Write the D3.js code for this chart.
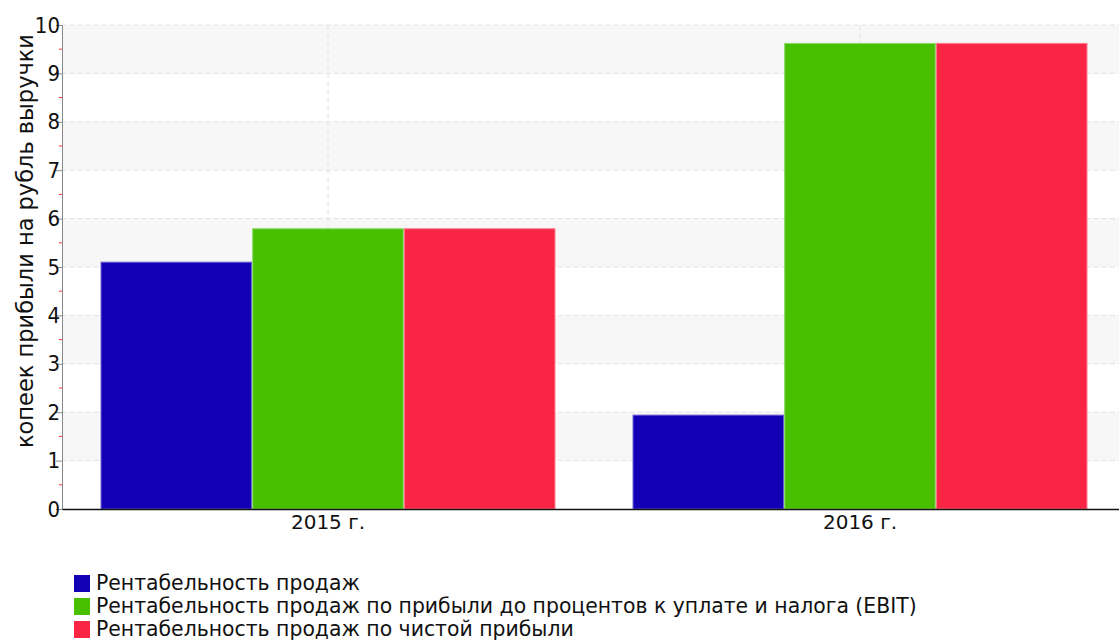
<!DOCTYPE html>
<html>
<head>
<meta charset="utf-8">
<script src="https://cdn.jsdelivr.net/npm/d3@7"></script>
<style>
body { margin: 0; background: #fff; }
text { font-family: "DejaVu Sans", sans-serif; fill: #111; }
</style>
</head>
<body>
<svg></svg>
<script>
var years = ["2015 г.", "2016 г."];
var seriesNames = [
  "Рентабельность продаж",
  "Рентабельность продаж по прибыли до процентов к уплате и налога (EBIT)",
  "Рентабельность продаж по чистой прибыли"
];
var salesMargin = [5.1, 1.94];
var ebitMargin = [5.79, 9.62];
var netMargin = [5.79, 9.62];
var colors = ["#1400b4", "#48c000", "#fa2545"];
var strokes = ["#6e62d6", "#8ada6a", "#fc7a8e"];
var yTicks = [0, 1, 2, 3, 4, 5, 6, 7, 8, 9, 10];

var values = [salesMargin, ebitMargin, netMargin];

var svgWidth = 1119, svgHeight = 640;
var plotLeft = 62, plotTop = 25, plotBottom = 509, plotRight = 1126;

var svg = d3.select("svg")
  .attr("width", svgWidth)
  .attr("height", svgHeight);

var y = d3.scaleLinear().domain([0, 10]).range([plotBottom, plotTop]);
var x0 = d3.scaleBand().domain(years).range([plotLeft, plotRight]);
var x1 = d3.scaleBand().domain(d3.range(3))
  .range([0, x0.bandwidth()])
  .paddingOuter(0.254);

// alternating bands
svg.append("g").selectAll("rect")
  .data(yTicks.slice(0, -1).filter(function (d) { return d % 2 == 1; }))
  .enter().append("rect")
  .attr("x", plotLeft)
  .attr("y", function (d) { return y(d + 1); })
  .attr("width", svgWidth - plotLeft)
  .attr("height", function (d) { return y(d) - y(d + 1); })
  .style("fill", "#f7f7f7");

// horizontal grid
svg.append("g").selectAll("line")
  .data(yTicks.slice(1))
  .enter().append("line")
  .attr("x1", plotLeft).attr("x2", svgWidth)
  .attr("y1", function (d) { return y(d); })
  .attr("y2", function (d) { return y(d); })
  .style("stroke", "#e2e2e2")
  .style("stroke-dasharray", "5,3");

// vertical grid
svg.append("g").selectAll("line")
  .data(years)
  .enter().append("line")
  .attr("x1", function (d) { return x0(d) + x0.bandwidth() / 2; })
  .attr("x2", function (d) { return x0(d) + x0.bandwidth() / 2; })
  .attr("y1", plotTop).attr("y2", plotBottom)
  .style("stroke", "#e2e2e2")
  .style("stroke-dasharray", "5,3");

// bars
var groups = svg.append("g").selectAll("g")
  .data(years)
  .enter().append("g")
  .attr("transform", function (d) { return "translate(" + x0(d) + ",0)"; });

groups.selectAll("rect")
  .data(function (d, i) {
    return values.map(function (v, s) { return { s: s, v: v[i] }; });
  })
  .enter().append("rect")
  .attr("x", function (d) { return x1(d.s) + 0.5; })
  .attr("y", function (d) { return y(d.v); })
  .attr("width", x1.bandwidth() - 1)
  .attr("height", function (d) { return plotBottom - y(d.v); })
  .style("fill", function (d) { return colors[d.s]; })
  .style("stroke", function (d) { return strokes[d.s]; })
  .style("stroke-width", 1);

// y axis
var yAxis = d3.axisLeft(y).tickValues(yTicks).tickSize(6).tickFormat(d3.format("d"));
var yg = svg.append("g")
  .attr("transform", "translate(" + plotLeft + ",0)")
  .call(yAxis);
yg.select(".domain").style("stroke", "#888");
yg.selectAll(".tick line").style("stroke", "#888");
yg.selectAll(".tick text")
  .attr("x", -2)
  .style("font-family", "'DejaVu Sans Condensed', 'DejaVu Sans', sans-serif")
  .style("font-size", "22px")
  .style("fill", "#111");

// minor ticks
svg.append("g").selectAll("line")
  .data(yTicks.slice(0, -1))
  .enter().append("line")
  .attr("x1", plotLeft - 3).attr("x2", plotLeft)
  .attr("y1", function (d) { return y(d + 0.5); })
  .attr("y2", function (d) { return y(d + 0.5); })
  .style("stroke", "#ff3333");

// x axis
var xAxis = d3.axisBottom(x0).tickSize(0).tickPadding(6);
var xg = svg.append("g")
  .attr("transform", "translate(0," + plotBottom + ")")
  .call(xAxis);
xg.select(".domain").style("stroke", "#111").style("stroke-width", 1.5);
xg.selectAll(".tick text")
  .style("font-size", "20px")
  .style("fill", "#111");

// y title
svg.append("text")
  .attr("transform", "translate(33,241) rotate(-90)")
  .attr("text-anchor", "middle")
  .style("font-size", "22.5px")
  .text("копеек прибыли на рубль выручки");

// legend
var legend = svg.append("g").selectAll("g")
  .data(seriesNames)
  .enter().append("g")
  .attr("transform", function (d, i) { return "translate(74," + (575 + i * 23) + ")"; });

legend.append("rect")
  .attr("width", 16).attr("height", 17)
  .style("fill", function (d, i) { return colors[i]; });

legend.append("text")
  .attr("x", 22)
  .attr("y", 15)
  .style("font-size", "20.4px")
  .text(function (d) { return d; });
</script>
</body>
</html>
